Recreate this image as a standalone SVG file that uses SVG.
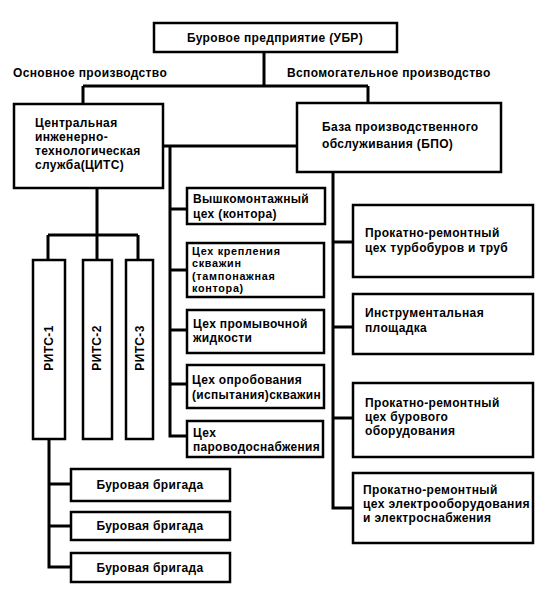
<svg xmlns="http://www.w3.org/2000/svg" width="546" height="595" viewBox="0 0 546 595">
<style>
.box{fill:#fff;stroke:#000;stroke-width:2.5}
.ln{fill:none;stroke:#000;stroke-width:3}
text{font-family:"Liberation Sans",Arial,sans-serif;font-weight:bold;font-size:12px;letter-spacing:0.35px;fill:#000}
.c{text-anchor:middle}
.sm{font-size:10.8px;letter-spacing:0.7px}
</style>
<rect width="546" height="595" fill="#fff"/>
<g id="connectors">
<path class="ln" d="M264,52V86M83,86H368M83,86V104M368,86V103"/>
<path class="ln" d="M163,146H297M170,146V436H187M170,209H187M170,270H187M170,330H187M170,384H187"/>
<path class="ln" d="M333,172V508H353M333,242H353M333,327H353M333,418H353"/>
<path class="ln" d="M97,188V235M48,235H138M48,235V260M97,235V260M138,235V260"/>
<path class="ln" d="M49,439V567H71M49,484H71M49,526H71"/>
</g>
<g id="labels">
<text x="13" y="77">Основное производство</text>
<text x="287" y="77">Вспомогательное производство</text>
</g>
<g id="ubr"><rect class="box" x="154" y="23" width="243" height="29"/><text class="c" x="275" y="42">Буровое предприятие (УБР)</text></g>
<g id="cits"><rect class="box" x="14" y="104" width="149" height="84"/><text x="35" y="127">Центральная</text><text x="35" y="141">инженерно-</text><text x="35" y="155">технологическая</text><text x="35" y="169">служба(ЦИТС)</text></g>
<g id="bpo"><rect class="box" x="297" y="103" width="204" height="69"/><text x="322" y="131">База производственного</text><text x="322" y="148">обслуживания (БПО)</text></g>
<g id="vmc"><rect class="box" x="187" y="188" width="138" height="36"/><text x="193" y="203">Вышкомонтажный</text><text x="193" y="218">цех (контора)</text></g>
<g id="tamp"><rect class="box" x="187" y="243" width="137" height="54"/><text class="sm" x="192" y="254.5">Цех крепления</text><text class="sm" x="192" y="267">скважин</text><text class="sm" x="192" y="279.5">(тампонажная</text><text class="sm" x="192" y="292">контора)</text></g>
<g id="prom"><rect class="box" x="187" y="310" width="137" height="43"/><text x="193" y="328">Цех промывочной</text><text x="193" y="342">жидкости</text></g>
<g id="oprob"><rect class="box" x="187" y="365" width="137" height="43"/><text x="192" y="384">Цех опробования</text><text x="192" y="399" textLength="129" lengthAdjust="spacingAndGlyphs">(испытания)скважин</text></g>
<g id="par"><rect class="box" x="187" y="421" width="136" height="36"/><text x="193" y="437">Цех</text><text x="193" y="451" textLength="127" lengthAdjust="spacingAndGlyphs">пароводоснабжения</text></g>
<g id="prt"><rect class="box" x="353" y="205" width="180" height="72"/><text x="365" y="237">Прокатно-ремонтный</text><text x="365" y="252">цех турбобуров и труб</text></g>
<g id="instr"><rect class="box" x="353" y="294" width="180" height="60"/><text x="365" y="317">Инструментальная</text><text x="365" y="332">площадка</text></g>
<g id="prb"><rect class="box" x="353" y="383" width="180" height="74"/><text x="365" y="407">Прокатно-ремонтный</text><text x="365" y="421">цех бурового</text><text x="365" y="435">оборудования</text></g>
<g id="pre"><rect class="box" x="353" y="473" width="180" height="70"/><text x="363" y="494">Прокатно-ремонтный</text><text x="363" y="508" textLength="167" lengthAdjust="spacingAndGlyphs">цех электрооборудования</text><text x="363" y="522">и электроснабжения</text></g>
<g id="rits1"><rect class="box" x="33" y="260" width="32" height="179"/><text class="c" transform="translate(53,348) rotate(-90)">РИТС-1</text></g>
<g id="rits2"><rect class="box" x="83" y="260" width="29" height="179"/><text class="c" transform="translate(101,348) rotate(-90)">РИТС-2</text></g>
<g id="rits3"><rect class="box" x="126" y="260" width="27" height="179"/><text class="c" transform="translate(144,348) rotate(-90)">РИТС-3</text></g>
<g id="bb1"><rect class="box" x="71" y="469" width="159" height="32"/><text class="c" x="150" y="489">Буровая бригада</text></g>
<g id="bb2"><rect class="box" x="71" y="512" width="159" height="28"/><text class="c" x="150" y="530">Буровая бригада</text></g>
<g id="bb3"><rect class="box" x="71" y="553" width="159" height="29"/><text class="c" x="150" y="572">Буровая бригада</text></g>
</svg>
